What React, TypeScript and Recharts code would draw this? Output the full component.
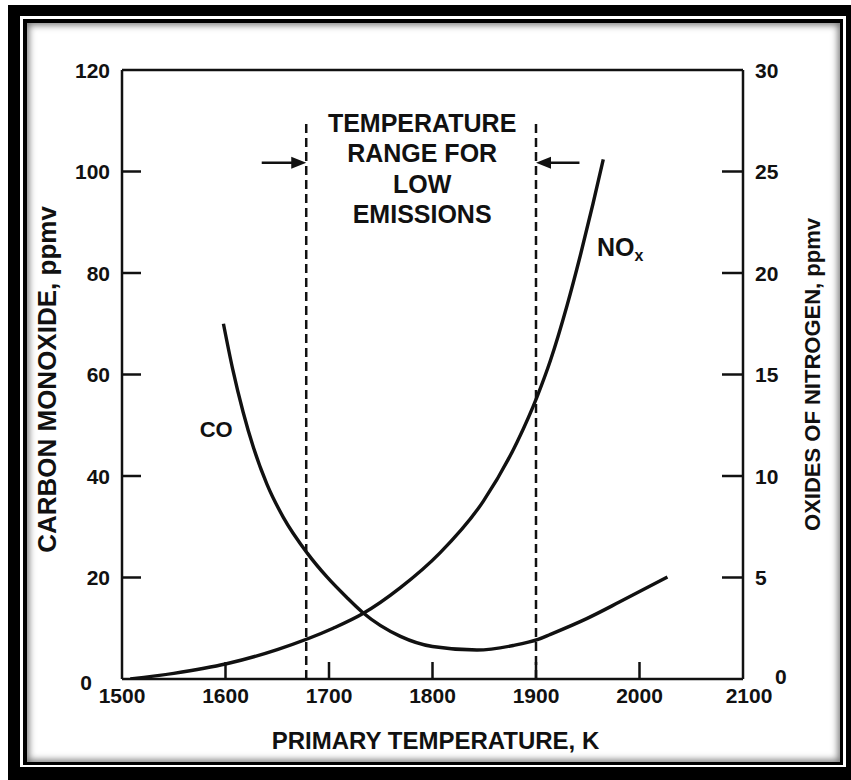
import { ComposedChart, Line, XAxis, YAxis, ReferenceLine, ReferenceDot } from 'recharts';

const FONT = '"Liberation Sans", Arial, Helvetica, sans-serif';
const INK = '#111';

// axes
const tempTicks = [1500, 1600, 1700, 1800, 1900, 2000, 2100];
const coTicks = [0, 20, 40, 60, 80, 100, 120];
const noxTicks = [0, 5, 10, 15, 20, 25, 30];

// CO curve, ppmv (left axis)
const coTemp = [1598, 1607, 1617, 1627, 1640, 1656, 1679, 1698, 1717, 1732, 1769, 1800, 1843, 1878, 1902, 1914, 1949, 1981, 2027];
const coPpm = [70, 61, 52.6, 45.6, 38.4, 31.8, 24.8, 20.1, 16.1, 13.2, 8.4, 6.4, 5.7, 6.6, 7.8, 8.8, 11.9, 15.2, 20.1];

// NOx curve, ppmv (right axis)
const noxTemp = [1508, 1550, 1601, 1650, 1704, 1732, 1769, 1807, 1849, 1882, 1901, 1914, 1930, 1943, 1955, 1965];
const noxPpm = [0, 0.28, 0.75, 1.45, 2.5, 3.2, 4.5, 6.2, 8.75, 11.7, 13.9, 15.7, 18.4, 20.9, 23.4, 25.6];

// low emission band
const rangeTemps = [1678, 1900];
const rangeTop = 110;
const arrowLevel = 101.7;
const rangeLines = ['TEMPERATURE', 'RANGE FOR', 'LOW', 'EMISSIONS'];

const coData = coTemp.map((t, i) => ({ t, v: coPpm[i] }));
const noxData = noxTemp.map((t, i) => ({ t, v: noxPpm[i] }));

const textStyle = { fontFamily: FONT, fontWeight: 700, fill: INK };

function LeftTick({ x, y, payload }: any) {
  const v = payload.value;
  const edge = v === 0 || v === 120;
  return (
    <g>
      {!edge && <line x1={x} y1={y} x2={x + 19} y2={y} stroke={INK} strokeWidth={2.5} />}
      <text x={v === 0 ? x - 30 : x - 12} y={v === 0 ? y + 3 : y} textAnchor="end" dominantBaseline="central" fontSize={21} style={textStyle}>
        {v}
      </text>
    </g>
  );
}

function RightTick({ x, y, payload }: any) {
  const v = payload.value;
  const edge = v === 0 || v === 30;
  return (
    <g>
      {!edge && <line x1={x} y1={y} x2={x - 21} y2={y} stroke={INK} strokeWidth={2.5} />}
      <text x={v === 0 ? x + 32 : x + 12} y={v === 0 ? y - 3 : y} textAnchor="start" dominantBaseline="central" fontSize={21} style={textStyle}>
        {v}
      </text>
    </g>
  );
}

function BottomTick({ x, y, payload }: any) {
  const v = payload.value;
  const edge = v === 1500 || v === 2100;
  return (
    <g>
      {!edge && <line x1={x} y1={y} x2={x} y2={y - 17} stroke={INK} strokeWidth={2.5} />}
      <text x={v === 2100 ? x + 6 : x} y={y + 16} textAnchor="middle" dominantBaseline="central" fontSize={21} style={textStyle}>
        {v}
      </text>
    </g>
  );
}

const leftTitle = ({ viewBox }: any) => {
  const cx = viewBox.x - 15;
  const cy = viewBox.y + viewBox.height / 2 + 5;
  return (
    <text x={cx} y={cy} transform={`rotate(-90, ${cx}, ${cy})`} textAnchor="middle" dominantBaseline="central" fontSize={26} style={textStyle}>
      CARBON MONOXIDE, ppmv
    </text>
  );
};

const rightTitle = ({ viewBox }: any) => {
  const cx = viewBox.x + 69;
  const cy = viewBox.y + viewBox.height / 2;
  return (
    <text x={cx} y={cy} transform={`rotate(-90, ${cx}, ${cy})`} textAnchor="middle" dominantBaseline="central" fontSize={22} style={textStyle}>
      OXIDES OF NITROGEN, ppmv
    </text>
  );
};

const bottomTitle = ({ viewBox }: any) => (
  <text x={viewBox.x + viewBox.width / 2 + 3} y={viewBox.y + 61} textAnchor="middle" dominantBaseline="central" fontSize={24} style={textStyle}>
    PRIMARY TEMPERATURE, K
  </text>
);

const arrowRight = ({ cx, cy }: any) => (
  <polygon points={`${cx},${cy} ${cx - 15},${cy - 6} ${cx - 15},${cy + 6}`} fill={INK} />
);
const arrowLeft = ({ cx, cy }: any) => (
  <polygon points={`${cx},${cy} ${cx + 15},${cy - 6} ${cx + 15},${cy + 6}`} fill={INK} />
);

const rangeText = ({ cx, cy }: any) => (
  <text x={cx} y={cy} textAnchor="middle" fontSize={25} style={textStyle}>
    {rangeLines.map((line, i) => (
      <tspan key={line} x={cx} dy={i === 0 ? '0.35em' : 30.5}>
        {line}
      </tspan>
    ))}
  </text>
);

const coText = ({ cx, cy }: any) => (
  <text x={cx} y={cy} textAnchor="middle" dominantBaseline="central" fontSize={22} style={textStyle}>
    CO
  </text>
);

const noxText = ({ cx, cy }: any) => (
  <text x={cx} y={cy} dominantBaseline="central" fontSize={25} style={textStyle}>
    NO
    <tspan fontSize={16} dy={8}>x</tspan>
  </text>
);

export default function App() {
  return (
    <div style={{ position: 'absolute', left: 0, top: 0, width: 851, height: 780, background: '#fff', overflow: 'hidden' }}>
      <div style={{ position: 'absolute', left: 8, top: 5, width: 843, height: 775, background: '#000' }} />
      <div style={{ position: 'absolute', left: 20, top: 16, width: 826, height: 751, background: '#fff' }} />
      <div style={{ position: 'absolute', left: 23, top: 19, width: 820, height: 746, background: '#000' }} />
      <div
        style={{
          position: 'absolute',
          left: 27,
          top: 23,
          width: 813,
          height: 739,
          background: '#fff',
          boxShadow: 'inset 0 0 7px 2px rgba(0,0,0,0.55)',
        }}
      />
      <div style={{ position: 'absolute', left: 0, top: 0 }}>
        <ComposedChart width={851} height={780} margin={{ top: 70, right: 48, bottom: 61, left: 62 }}>
          <XAxis
            xAxisId="t"
            type="number"
            dataKey="t"
            domain={[1500, 2100]}
            ticks={tempTicks}
            interval={0}
            height={40}
            tickSize={0}
            tickMargin={0}
            tick={<BottomTick />}
            axisLine={{ stroke: INK, strokeWidth: 2.5 }}
            allowDataOverflow
            label={bottomTitle}
          />
          <YAxis
            yAxisId="co"
            orientation="left"
            type="number"
            domain={[0, 120]}
            ticks={coTicks}
            interval={0}
            width={60}
            tickSize={0}
            tickMargin={0}
            tick={<LeftTick />}
            axisLine={{ stroke: INK, strokeWidth: 2.5 }}
            allowDataOverflow
            label={leftTitle}
          />
          <YAxis
            yAxisId="nox"
            orientation="right"
            type="number"
            domain={[0, 30]}
            ticks={noxTicks}
            interval={0}
            width={60}
            tickSize={0}
            tickMargin={0}
            tick={<RightTick />}
            axisLine={{ stroke: INK, strokeWidth: 2.5 }}
            allowDataOverflow
            label={rightTitle}
          />

          <ReferenceLine xAxisId="t" yAxisId="co" y={120} stroke={INK} strokeWidth={2.5} />

          {rangeTemps.map((t) => (
            <ReferenceLine
              key={t}
              xAxisId="t"
              yAxisId="co"
              segment={[{ x: t, y: 0 }, { x: t, y: rangeTop }]}
              stroke={INK}
              strokeWidth={2.5}
              strokeDasharray="9 5"
            />
          ))}

          <ReferenceLine xAxisId="t" yAxisId="co" segment={[{ x: 1635, y: arrowLevel }, { x: 1668, y: arrowLevel }]} stroke={INK} strokeWidth={2.5} />
          <ReferenceDot xAxisId="t" yAxisId="co" x={rangeTemps[0]} y={arrowLevel} shape={arrowRight} />
          <ReferenceLine xAxisId="t" yAxisId="co" segment={[{ x: 1910, y: arrowLevel }, { x: 1942, y: arrowLevel }]} stroke={INK} strokeWidth={2.5} />
          <ReferenceDot xAxisId="t" yAxisId="co" x={rangeTemps[1]} y={arrowLevel} shape={arrowLeft} />

          <ReferenceDot xAxisId="t" yAxisId="co" x={1790} y={109.6} shape={rangeText} />
          <ReferenceDot xAxisId="t" yAxisId="co" x={1591} y={49.1} shape={coText} />
          <ReferenceDot xAxisId="t" yAxisId="co" x={1959} y={85.1} shape={noxText} />

          <Line
            xAxisId="t"
            yAxisId="co"
            data={coData}
            dataKey="v"
            type="monotone"
            dot={false}
            activeDot={false}
            stroke={INK}
            strokeWidth={3.4}
            isAnimationActive={false}
          />
          <Line
            xAxisId="t"
            yAxisId="nox"
            data={noxData}
            dataKey="v"
            type="monotone"
            dot={false}
            activeDot={false}
            stroke={INK}
            strokeWidth={3.4}
            isAnimationActive={false}
          />
        </ComposedChart>
      </div>
    </div>
  );
}
